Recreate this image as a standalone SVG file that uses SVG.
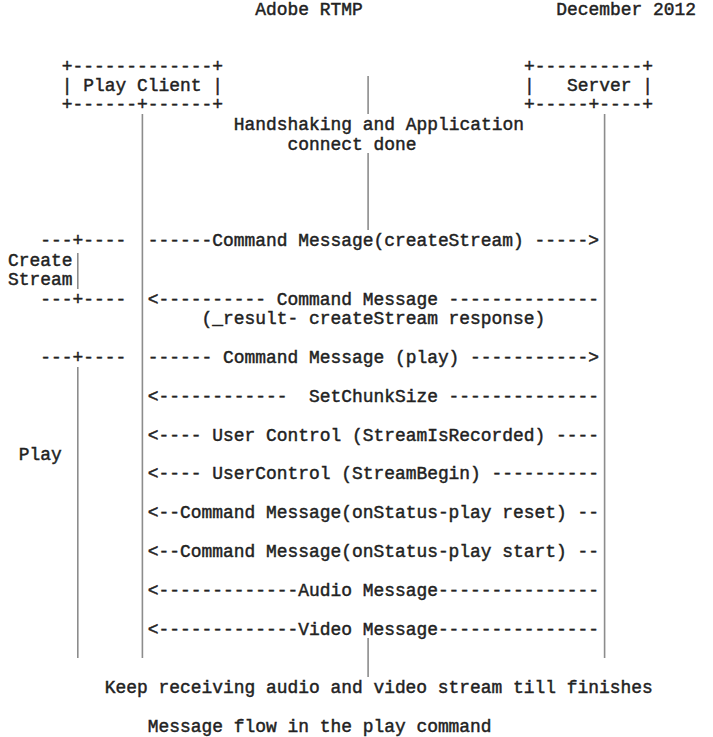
<svg xmlns="http://www.w3.org/2000/svg" width="713" height="737" viewBox="0 0 713 737">
  <style>
    text { font-family: "Courier", "Nimbus Mono PS", "FreeMono", "Courier New", "Liberation Mono", monospace; font-size: 17.92px; fill: #222; stroke: #222; stroke-width: 0.45; white-space: pre; }
    .life { stroke: #8c8c8c; stroke-width: 1.6; fill: none; }
  </style>
  <rect width="713" height="737" fill="#fff"/>

  <!-- page header -->
  <g id="header">
    <text x="255.25" y="14.5">Adobe RTMP</text>
    <text x="556.25" y="14.5">December 2012</text>
  </g>

  <!-- participants -->
  <g id="play-client">
    <text x="61.75" y="71.6">+-------------+</text>
    <text x="61.75" y="91">| Play Client |</text>
    <text x="61.75" y="110.4">+------+------+</text>
  </g>
  <g id="server">
    <text x="524" y="71.6">+----------+</text>
    <text x="524" y="91">|   Server |</text>
    <text x="524" y="110.4">+-----+----+</text>
  </g>

  <!-- handshake note -->
  <g id="handshake-note">
    <text x="233.75" y="130.4">Handshaking and Application</text>
    <text x="287.5" y="149.8">connect done</text>
  </g>

  <!-- phase brackets on the left -->
  <g id="phase-create-stream">
    <text x="40.25" y="246.4">---+----</text>
    <text x="8" y="265.8">Create</text>
    <text x="8" y="285.2">Stream</text>
    <text x="40.25" y="304.6">---+----</text>
    <line class="life" x1="77.8" y1="253" x2="77.8" y2="289"/>
  </g>
  <g id="phase-play">
    <text x="40.25" y="362.9">---+----</text>
    <text x="18.75" y="460">Play</text>
    <line class="life" x1="77.8" y1="367" x2="77.8" y2="658"/>
  </g>

  <!-- trailing note -->
  <g id="stream-note">
    <text x="104.75" y="693">Keep receiving audio and video stream till finishes</text>
  </g>

  <!-- caption -->
  <g id="caption">
    <text x="147.75" y="731.9">Message flow in the play command</text>
  </g>

  <!-- lifelines and messages -->
  <g id="connectors">
    <line class="life" x1="142.4" y1="114" x2="142.4" y2="658"/>
    <line class="life" x1="604.6" y1="114" x2="604.6" y2="658"/>
    <line class="life" x1="368.1" y1="76" x2="368.1" y2="114"/>
    <line class="life" x1="368.1" y1="153" x2="368.1" y2="230"/>
    <line class="life" x1="368.1" y1="638" x2="368.1" y2="677"/>

    <text x="147.75" y="246.4">------Command Message(createStream) -----&gt;</text>
    <text x="147.75" y="304.6">&lt;---------- Command Message --------------</text>
    <text x="147.75" y="324.1">     (_result- createStream response)</text>
    <text x="147.75" y="362.9">------ Command Message (play) -----------&gt;</text>
    <text x="147.75" y="401.7">&lt;------------  SetChunkSize --------------</text>
    <text x="147.75" y="440.6">&lt;---- User Control (StreamIsRecorded) ----</text>
    <text x="147.75" y="479.4">&lt;---- UserControl (StreamBegin) ----------</text>
    <text x="147.75" y="518.3">&lt;--Command Message(onStatus-play reset) --</text>
    <text x="147.75" y="557.1">&lt;--Command Message(onStatus-play start) --</text>
    <text x="147.75" y="596">&lt;-------------Audio Message---------------</text>
    <text x="147.75" y="634.8">&lt;-------------Video Message---------------</text>
  </g>
</svg>
